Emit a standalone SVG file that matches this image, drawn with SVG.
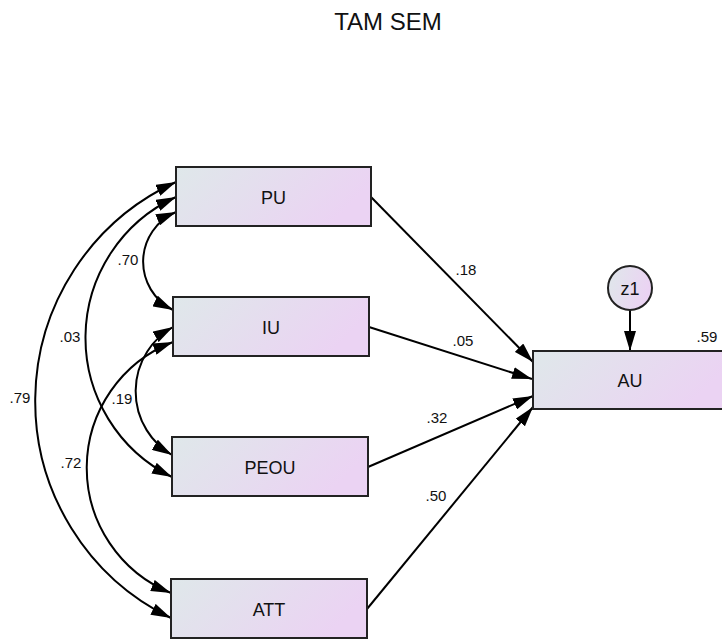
<svg xmlns="http://www.w3.org/2000/svg" width="722" height="639" viewBox="0 0 722 639">
<defs>
<linearGradient id="g" x1="0" y1="0" x2="1" y2="0.3">
<stop offset="0" stop-color="#dfe8ea"/>
<stop offset="1" stop-color="#ebd3f3"/>
</linearGradient>
<marker id="ah" markerUnits="userSpaceOnUse" markerWidth="21" markerHeight="12" refX="20" refY="6" orient="auto-start-reverse" viewBox="0 0 21 12">
<path d="M0,0 L20,6 L0,12 z" fill="#000"/>
</marker>
</defs>
<style>
.box{fill:url(#g);stroke:#222;stroke-width:2}
.lbl{font-family:"Liberation Sans",Arial,sans-serif;font-size:18px;fill:#111;text-anchor:middle}
.num{font-family:"Liberation Sans",Arial,sans-serif;font-size:15px;fill:#111;text-anchor:middle}
.c{fill:none;stroke:#000;stroke-width:2}
</style>
<rect width="722" height="639" fill="#fff"/>
<text x="388" y="29.5" class="lbl" style="font-size:24px">TAM SEM</text>
<g id="connectors">
<path class="c" marker-end="url(#ah)" d="M371,197 L533,362"/>
<path class="c" marker-end="url(#ah)" d="M369,327 L532,379"/>
<path class="c" marker-end="url(#ah)" d="M368,467 L533,396"/>
<path class="c" marker-end="url(#ah)" d="M367,609 L533,407"/>
<path class="c" marker-end="url(#ah)" d="M630,310 L630,351"/>
<path class="c" marker-start="url(#ah)" marker-end="url(#ah)" d="M176,212 A54,54 0 0 0 173,310"/>
<path class="c" marker-start="url(#ah)" marker-end="url(#ah)" d="M176,197 A155,155 0 0 0 172,477"/>
<path class="c" marker-start="url(#ah)" marker-end="url(#ah)" d="M176,182 A241,241 0 0 0 171,618"/>
<path class="c" marker-start="url(#ah)" marker-end="url(#ah)" d="M173,327 A74,74 0 0 0 172,455"/>
<path class="c" marker-start="url(#ah)" marker-end="url(#ah)" d="M173,342 A135,135 0 0 0 171,593"/>
</g>
<g id="labels">
<text class="num" x="466" y="275">.18</text>
<text class="num" x="463" y="346">.05</text>
<text class="num" x="437" y="423">.32</text>
<text class="num" x="436" y="501">.50</text>
<text class="num" x="128" y="265">.70</text>
<text class="num" x="70" y="342">.03</text>
<text class="num" x="20" y="403">.79</text>
<text class="num" x="122" y="404">.19</text>
<text class="num" x="71" y="468">.72</text>
<text class="num" x="707" y="342">.59</text>
</g>
<g id="PU"><rect class="box" x="176" y="167" width="195" height="59"/><text class="lbl" x="273.5" y="204">PU</text></g>
<g id="IU"><rect class="box" x="173" y="297" width="196" height="59"/><text class="lbl" x="271" y="334">IU</text></g>
<g id="PEOU"><rect class="box" x="172" y="437" width="196" height="59"/><text class="lbl" x="270" y="474">PEOU</text></g>
<g id="ATT"><rect class="box" x="171" y="579" width="196" height="59"/><text class="lbl" x="269" y="616">ATT</text></g>
<g id="AU"><rect class="box" x="533" y="351" width="194" height="58"/><text class="lbl" x="630" y="387">AU</text></g>
<g id="z1"><circle cx="630" cy="288" r="22" fill="url(#g)" stroke="#222" stroke-width="2"/><text class="lbl" x="630" y="294.5">z1</text></g>
</svg>
